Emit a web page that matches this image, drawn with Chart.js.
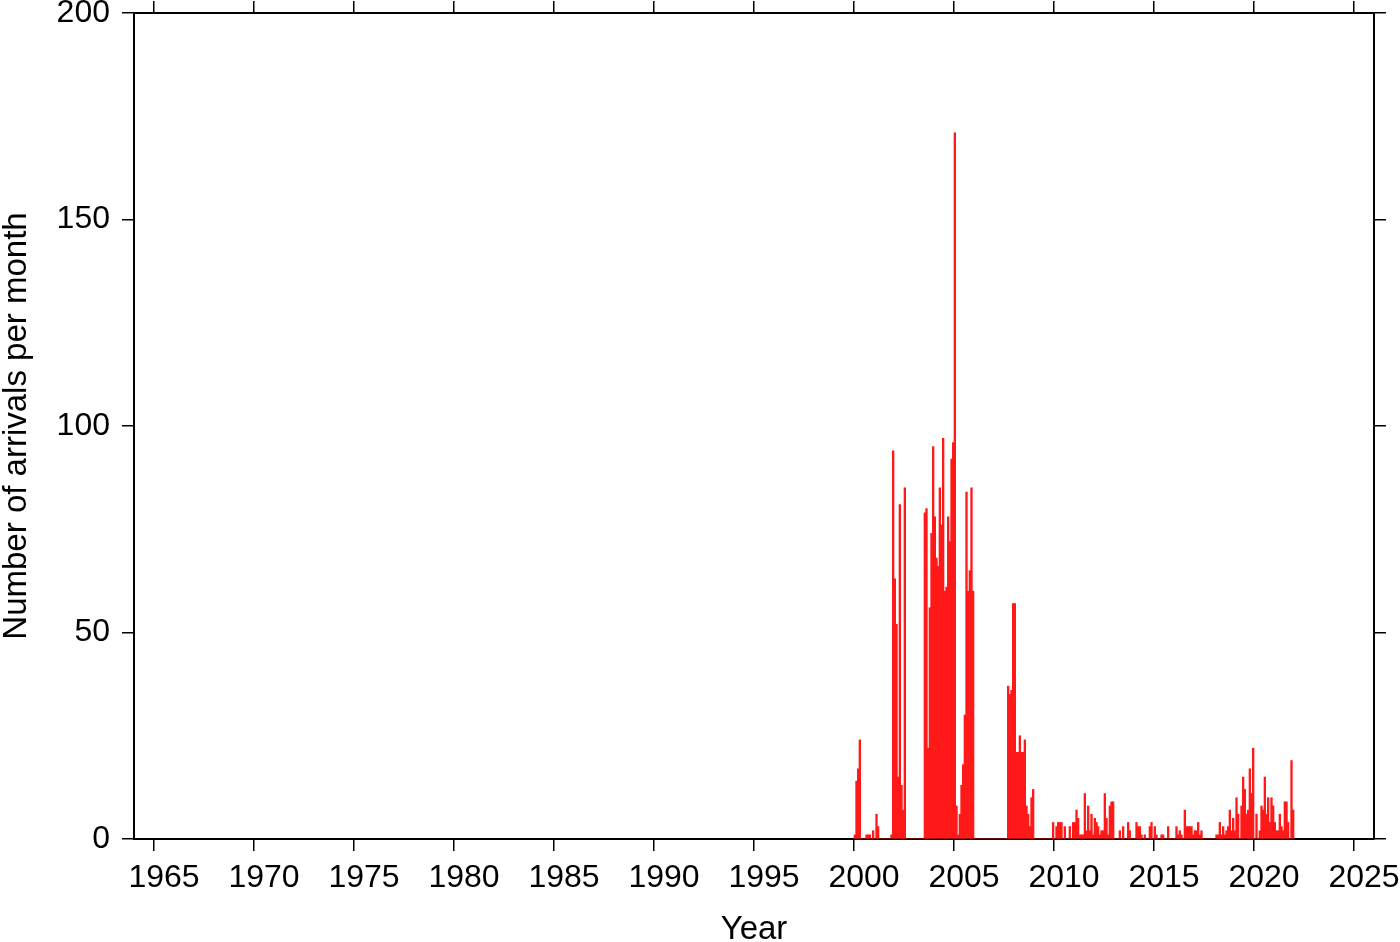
<!DOCTYPE html>
<html>
<head>
<meta charset="utf-8">
<script src="https://cdn.jsdelivr.net/npm/chart.js@4.4.1/dist/chart.umd.min.js"></script>
<style>
  html, body { margin: 0; padding: 0; background: #ffffff; }
  #wrap { width: 1400px; height: 942px; }
</style>
</head>
<body>
<div id="wrap"><canvas id="c" width="1400" height="942"></canvas></div>
<script>
// ---- Data: number of arrivals per month (Jan..Dec) ----
const months2000 = [1, 14, 17, 24, 0, 0, 0, 1, 1, 1, 0, 2];
const months2001 = [0, 6, 3, 0, 0, 0, 0, 0, 0, 0, 1, 94];
const months2002 = [63, 52, 15, 81, 13, 7, 85, 0, 0, 0, 0, 0];
const months2003 = [0, 0, 0, 0, 0, 0, 79, 80, 22, 56, 74, 95];
const months2004 = [78, 68, 66, 85, 76, 97, 60, 61, 78, 72, 92, 96];
const months2005 = [171, 8, 1, 6, 13, 18, 30, 84, 60, 65, 85, 60];
const months2006 = [0, 0, 0, 0, 0, 0, 0, 0, 0, 0, 0, 0];
const months2007 = [0, 0, 0, 0, 0, 0, 0, 0, 37, 35, 36, 57];
const months2008 = [57, 21, 21, 25, 21, 21, 24, 8, 6, 3, 10, 12];
const months2009 = [0, 0, 0, 0, 0, 0, 0, 0, 0, 0, 0, 4];
const months2010 = [0, 3, 4, 4, 4, 0, 3, 0, 0, 3, 0, 4];
const months2011 = [4, 7, 5, 1, 1, 1, 11, 2, 8, 2, 6, 1];
const months2012 = [5, 4, 3, 1, 2, 2, 11, 5, 1, 8, 9, 9];
const months2013 = [0, 0, 0, 2, 0, 3, 0, 0, 4, 2, 0, 0];
const months2014 = [0, 4, 3, 3, 1, 0, 1, 0, 0, 3, 4, 0];
const months2015 = [3, 1, 0, 0, 1, 1, 0, 0, 3, 0, 0, 0];
const months2016 = [0, 3, 1, 2, 1, 0, 7, 3, 3, 3, 3, 1];
const months2017 = [2, 2, 4, 1, 2, 0, 0, 0, 0, 0, 0, 0];
const months2018 = [0, 1, 1, 4, 1, 3, 1, 2, 3, 7, 2, 5];
const months2019 = [2, 10, 6, 0, 8, 15, 12, 6, 7, 17, 11, 22];
const months2020 = [0, 6, 0, 2, 8, 7, 15, 6, 10, 4, 10, 8];
const months2021 = [4, 2, 2, 6, 3, 2, 9, 9, 4, 0, 19, 7];

const years = [2000, 2001, 2002, 2003, 2004, 2005, 2006, 2007, 2008, 2009, 2010,
               2011, 2012, 2013, 2014, 2015, 2016, 2017, 2018, 2019, 2020, 2021];
const monthlyCounts = [months2000, months2001, months2002, months2003, months2004,
  months2005, months2006, months2007, months2008, months2009, months2010, months2011,
  months2012, months2013, months2014, months2015, months2016, months2017, months2018,
  months2019, months2020, months2021];

const xTickYears = [1965, 1970, 1975, 1980, 1985, 1990, 1995, 2000, 2005, 2010, 2015, 2020, 2025];
const yTickValues = [0, 50, 100, 150, 200];
const xMin = 1964, xMax = 2026, yMin = 0, yMax = 200;
const xTitle = 'Year';
const yTitle = 'Number of arrivals per month';

// Build points: each bar covers one calendar month
const points = [];
years.forEach((yr, i) => {
  monthlyCounts[i].forEach((v, m) => {
    points.push({ x: yr + (m + 0.5) / 12, y: v });
  });
});

const FONT = 'Liberation Sans, Arial, Helvetica, sans-serif';
const tickFont = { family: FONT, size: 32 };

function fixTicks(values) {
  return (scale) => { scale.ticks = values.map(v => ({ value: v })); };
}
function fitBox(w, h) {
  return (s) => {
    if (w !== null) s.width = w;
    if (h !== null) s.height = h;
    s.paddingTop = 0; s.paddingBottom = 0; s.paddingLeft = 0; s.paddingRight = 0;
  };
}
const commonGrid = {
  drawOnChartArea: false,
  drawTicks: true,
  offset: false,
  tickLength: 12,
  color: '#000000',
  lineWidth: 1.5
};
const commonBorder = { display: true, color: '#000000', width: 2 };

new Chart(document.getElementById('c'), {
  type: 'bar',
  data: {
    datasets: [{
      data: points,
      backgroundColor: 'rgb(255,25,25)',
      borderWidth: 0,
      barPercentage: 1,
      categoryPercentage: 1,
      xAxisID: 'x',
      yAxisID: 'y'
    }]
  },
  options: {
    responsive: false,
    animation: false,
    events: [],
    layout: { padding: 0 },
    plugins: { legend: { display: false }, tooltip: { enabled: false } },
    scales: {
      x: {
        type: 'linear',
        position: 'bottom',
        offset: false,
        min: xMin, max: xMax,
        afterBuildTicks: fixTicks(xTickYears),
        afterFit: fitBox(null, 103),
        grid: commonGrid,
        border: commonBorder,
        ticks: {
          color: '#000000', font: tickFont, padding: 8, maxRotation: 0,
          labelOffset: 10,
          autoSkip: false, callback: (v) => String(v)
        },
        title: {
          display: true, text: xTitle, color: '#000000',
          font: { family: FONT, size: 33, lineHeight: '24px' },
          padding: 0
        }
      },
      x2: {
        type: 'linear',
        position: 'top',
        offset: false,
        min: xMin, max: xMax,
        afterBuildTicks: fixTicks(xTickYears),
        afterFit: fitBox(null, 13),
        grid: commonGrid,
        border: commonBorder,
        ticks: { display: true, padding: 0, font: { size: 1 }, callback: () => '' }
      },
      y: {
        type: 'linear',
        position: 'left',
        min: yMin, max: yMax,
        afterBuildTicks: fixTicks(yTickValues),
        afterFit: fitBox(134, null),
        grid: commonGrid,
        border: commonBorder,
        ticks: { color: '#000000', font: tickFont, padding: 12, callback: (v) => String(v) },
        title: {
          display: true, text: yTitle, color: '#000000',
          font: { family: FONT, size: 33, lineHeight: '34px' },
          padding: 0
        }
      },
      y2: {
        type: 'linear',
        position: 'right',
        min: yMin, max: yMax,
        afterBuildTicks: fixTicks(yTickValues),
        afterFit: fitBox(26, null),
        grid: commonGrid,
        border: commonBorder,
        ticks: { display: true, padding: 0, font: { size: 1 }, callback: () => '' }
      }
    }
  }
});
</script>
</body>
</html>
